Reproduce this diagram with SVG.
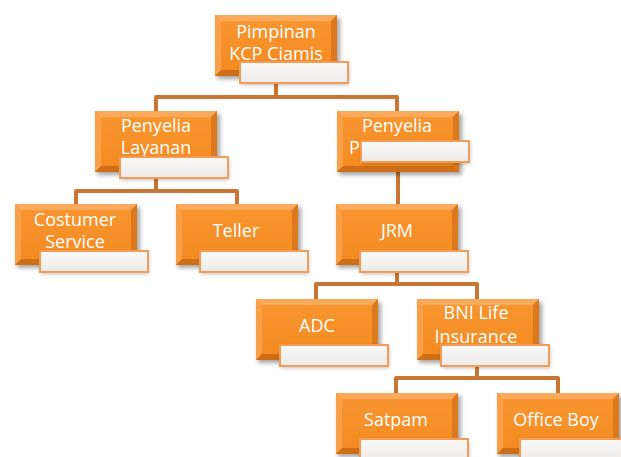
<svg xmlns="http://www.w3.org/2000/svg" xmlns:xlink="http://www.w3.org/1999/xlink" width="621" height="457" viewBox="0 0 621 457">
<style>
.t{font-family:"Open Sans","Liberation Sans",sans-serif;font-size:18px;fill:#FFFFFF;text-anchor:middle}
.c{fill:none;stroke:#C97634;stroke-width:4;stroke-linejoin:round}
.lb{fill:url(#lg);stroke:#F49C55;stroke-width:2}
</style>
<defs>
<linearGradient id="fg" x1="0" y1="0" x2="0" y2="1">
<stop offset="0" stop-color="#F89630"/>
<stop offset="1" stop-color="#F48A20"/>
</linearGradient>
<linearGradient id="lg" x1="0" y1="0" x2="0" y2="1">
<stop offset="0" stop-color="#F9F9F9"/>
<stop offset="1" stop-color="#EDEBE9"/>
</linearGradient>
<filter id="sh" x="-20%" y="-20%" width="140%" height="140%">
<feGaussianBlur stdDeviation="2"/>
</filter>
<g id="bx">
<rect x="2" y="3" width="123" height="61" fill="#000" opacity="0.35" filter="url(#sh)"/>
<rect x="0" y="0" width="122" height="61" fill="url(#fg)"/>
<polygon points="0,0 122,0 116,6 6,6" fill="#FAAA5C"/>
<polygon points="0,0 6,6 6,55 0,61" fill="#F9A048"/>
<polygon points="0,61 6,55 116,55 122,61" fill="#D06E18"/>
<polygon points="122,0 116,6 116,55 122,61" fill="#DC781E"/>
</g>
<g id="lab">
<rect x="1" y="2" width="108" height="21" fill="#000" opacity="0.25" filter="url(#sh)"/>
<rect x="0" y="0" width="108" height="21" class="lb"/>
</g>
</defs>
<rect width="621" height="457" fill="#FFFFFF"/>
<g id="connectors">
<path class="c" d="M276,83 V97 M156,111 V97 H397 V111"/>
<path class="c" d="M156,177 V191 M76,204 V191 H237 V204"/>
<path class="c" d="M398,171 V204"/>
<path class="c" d="M397,272 V284 M316,299 V284 H477 V299"/>
<path class="c" d="M477,367 V378 M396,393 V378 H558 V393"/>
</g>
<g id="n-pimpinan">
<use href="#bx" x="215" y="15"/>
<text class="t" x="276" y="38">Pimpinan</text>
<text class="t" x="276" y="60">KCP Ciamis</text>
<use href="#lab" x="240" y="62"/>
</g>
<g id="n-penyelia-layanan">
<use href="#bx" x="95" y="111"/>
<text class="t" x="156" y="132">Penyelia</text>
<text class="t" x="156" y="154">Layanan</text>
<use href="#lab" x="120" y="157"/>
</g>
<g id="n-penyelia-p">
<use href="#bx" x="337" y="111"/>
<text class="t" x="397" y="132">Penyelia</text>
<text class="t" x="349" y="154" style="text-anchor:start">P</text>
<use href="#lab" x="361" y="141"/>
</g>
<g id="n-cs">
<use href="#bx" x="15" y="204"/>
<text class="t" x="75" y="226">Costumer</text>
<text class="t" x="75" y="248">Service</text>
<use href="#lab" x="40" y="251"/>
</g>
<g id="n-teller">
<use href="#bx" x="176" y="204"/>
<text class="t" x="236" y="237">Teller</text>
<use href="#lab" x="200" y="251"/>
</g>
<g id="n-jrm">
<use href="#bx" x="336" y="204"/>
<text class="t" x="397" y="237">JRM</text>
<use href="#lab" x="360" y="251"/>
</g>
<g id="n-adc">
<use href="#bx" x="256" y="299"/>
<text class="t" x="317" y="332">ADC</text>
<use href="#lab" x="280" y="345"/>
</g>
<g id="n-bni">
<use href="#bx" x="417" y="299"/>
<text class="t" x="476" y="319">BNI Life</text>
<text class="t" x="476" y="343">Insurance</text>
<use href="#lab" x="441" y="345"/>
</g>
<g id="n-satpam">
<use href="#bx" x="336" y="393"/>
<text class="t" x="396" y="426">Satpam</text>
<use href="#lab" x="360" y="439"/>
</g>
<g id="n-officeboy">
<use href="#bx" x="497" y="393"/>
<text class="t" x="556" y="426">Office Boy</text>
<use href="#lab" x="520" y="439"/>
</g>
</svg>
